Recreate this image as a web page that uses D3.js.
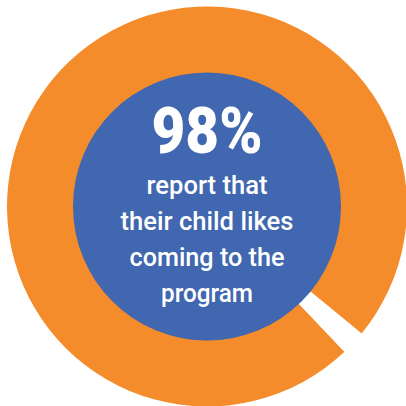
<!DOCTYPE html>
<html>
<head>
<meta charset="utf-8">
<script src="https://cdn.jsdelivr.net/npm/d3@7"></script>
<style>
html,body{margin:0;padding:0;background:#fff;}
svg{display:block;}
</style>
</head>
<body>
<script>
const categories = ["Likes coming", "Other"];
const values = [98, 2];
const headline = "98%";
const captionLines = ["report that", "their child likes", "coming to the", "program"];
const sliceColors = ["#F58C2B", "#FFFFFF"];
const centerColor = "#4067AF";

const W = 406, H = 406;
const cx = 207, cy = 206.5;
const outerR = 200, innerR = 134;

const svg = d3.select("body").append("svg").attr("width", W).attr("height", H);
const g = svg.append("g").attr("transform", `translate(${cx},${cy})`);

const startDeg = 136.6;
const pie = d3.pie().sort(null)
  .startAngle(startDeg * Math.PI / 180)
  .endAngle(startDeg * Math.PI / 180 + 2 * Math.PI);
const arc = d3.arc().innerRadius(innerR - 1).outerRadius(outerR);
const color = d3.scaleOrdinal().domain(categories).range(sliceColors);

g.selectAll("path.slice").data(pie(values)).join("path")
  .attr("class", "slice")
  .attr("d", arc)
  .attr("fill", (d, i) => color(categories[i]));

g.append("circle").attr("r", innerR).attr("fill", centerColor);

g.append("text")
  .attr("x", 0).attr("y", 153 - cy)
  .attr("text-anchor", "middle")
  .attr("font-family", "Roboto, 'Liberation Sans', sans-serif")
  .attr("font-weight", 900)
  .attr("font-size", 64)
  .attr("fill", "#fff")
  .attr("textLength", 111)
  .attr("lengthAdjust", "spacingAndGlyphs")
  .text(headline);

const baselines = [194, 230, 266, 302];
const widths = [121, 173, 155, 92];
g.selectAll("text.cap").data(captionLines).join("text")
  .attr("class", "cap")
  .attr("x", 0)
  .attr("y", (d, i) => baselines[i] - cy)
  .attr("text-anchor", "middle")
  .attr("font-family", "Roboto, 'Liberation Sans', sans-serif")
  .attr("font-weight", 500)
  .attr("font-size", 25.5)
  .attr("fill", "#fff")
  .attr("textLength", (d, i) => widths[i])
  .attr("lengthAdjust", "spacingAndGlyphs")
  .text(d => d);
</script>
</body>
</html>
